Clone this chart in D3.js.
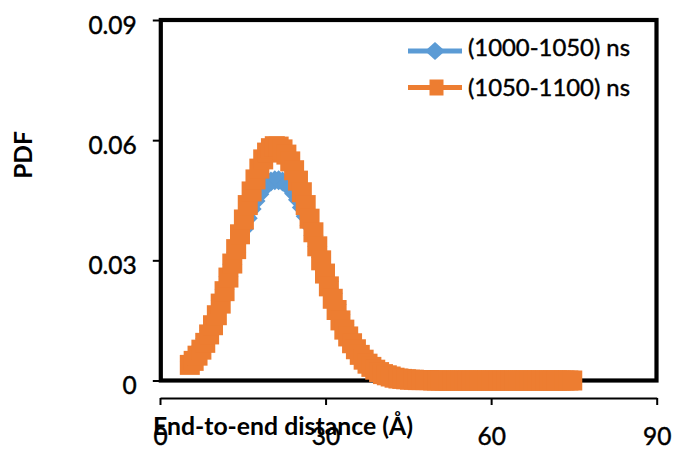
<!DOCTYPE html>
<html>
<head>
<meta charset="utf-8">
<script src="https://cdn.jsdelivr.net/npm/d3@7"></script>
<style>
  html, body { margin: 0; padding: 0; background: #fff; }
  text { font-family: Lato, "Open Sans", sans-serif; fill: #000; }
  .reg { stroke: #000; stroke-width: 0.45px; }
</style>
</head>
<body>
<script>
// ---- data ----
const distance = [
  5.4, 6.1, 6.8, 7.5, 8.2, 8.9, 9.6, 10.3, 11.0, 11.7,
  12.4, 13.1, 13.8, 14.5, 15.2, 15.9, 16.6, 17.3, 18.0, 18.7,
  19.4, 20.1, 20.8, 21.5, 22.2, 22.9, 23.6, 24.3, 25.0, 25.7,
  26.4, 27.1, 27.8, 28.5, 29.2, 29.9, 30.6, 31.3, 32.0, 32.7,
  33.4, 34.1, 34.8, 35.5, 36.2, 36.9, 37.6, 38.3, 39.0, 39.7,
  40.4, 41.1, 41.8, 42.5, 43.2, 43.9, 44.6, 45.3, 46.0, 46.7,
  47.4, 48.1, 48.8, 49.5, 50.2, 50.9, 51.6, 52.3, 53.0, 53.7,
  54.4, 55.1, 55.8, 56.5, 57.2, 57.9, 58.6, 59.3, 60.0, 60.7,
  61.4, 62.1, 62.8, 63.5, 64.2, 64.9, 65.6, 66.3, 67.0, 67.7,
  68.4, 69.1, 69.8, 70.5, 71.2, 71.9, 72.6, 73.3, 74.0, 74.7
];
const pdf1000_1050 = [
  0.0048, 0.0059, 0.0072, 0.0087, 0.0104, 0.0125, 0.0147, 0.0172, 0.0199, 0.0228,
  0.0259, 0.0290, 0.0320, 0.0350, 0.0378, 0.0405, 0.0428, 0.0448, 0.0465, 0.0479,
  0.0490, 0.0497, 0.0500, 0.0500, 0.0497, 0.0490, 0.0480, 0.0467, 0.0451, 0.0432,
  0.0410, 0.0387, 0.0362, 0.0335, 0.0307, 0.0278, 0.0248, 0.0218, 0.0190, 0.0164,
  0.0140, 0.0120, 0.0102, 0.0086, 0.0072, 0.0060, 0.0049, 0.0040, 0.0032, 0.0026,
  0.0021, 0.0017, 0.0013, 0.0010, 0.0008, 0.0006, 0.0005, 0.0004, 0.0003, 0.0002,
  0.0002, 0.0001, 0.0001, 0.0001, 0.0001, 0, 0, 0, 0, 0,
  0, 0, 0, 0, 0, 0, 0, 0, 0, 0,
  0, 0, 0, 0, 0, 0, 0, 0, 0, 0,
  0, 0, 0, 0, 0, 0, 0, 0, 0, 0
];
const pdf1050_1100 = [
  0.0039, 0.0049, 0.0062, 0.0077, 0.0094, 0.0115, 0.0138, 0.0163, 0.0192, 0.0223,
  0.0257, 0.0292, 0.0328, 0.0365, 0.0402, 0.0438, 0.0472, 0.0502, 0.0529, 0.0552,
  0.0569, 0.0580, 0.0585, 0.0584, 0.0577, 0.0564, 0.0547, 0.0525, 0.0499, 0.0470,
  0.0438, 0.0404, 0.0370, 0.0335, 0.0300, 0.0267, 0.0235, 0.0204, 0.0176, 0.0150,
  0.0127, 0.0110, 0.0093, 0.0078, 0.0064, 0.0052, 0.0042, 0.0034, 0.0027, 0.0021,
  0.0016, 0.0013, 0.0010, 0.0007, 0.0005, 0.0004, 0.0003, 0.0002, 0.0002, 0.0001,
  0.0001, 0.0001, 0.0001, 0, 0, 0, 0, 0, 0, 0,
  0, 0, 0, 0, 0, 0, 0, 0, 0, 0,
  0, 0, 0, 0, 0, 0, 0, 0, 0, 0,
  0, 0, 0, 0, 0, 0, 0, 0, 0, 0
];
const seriesNames = ["(1000-1050) ns", "(1050-1100) ns"];
const seriesColors = ["#5B9BD5", "#ED7D31"];
const xTicks = [0, 30, 60, 90];
const yTicks = [0, 0.03, 0.06, 0.09];
const xTitle = "End-to-end distance (Å)";
const yTitle = "PDF";

// ---- layout ----
const W = 673, H = 450;
const box = { left: 160.8, right: 656.5, top: 20, bottom: 380.5 };
const xAxisY = 398;

const svg = d3.select("body").append("svg").attr("width", W).attr("height", H);

const x = d3.scaleLinear().domain([0, 90]).range([160, 656.7]);
const y = d3.scaleLinear().domain([0, 0.09]).range([box.bottom, box.top]);

// plot box
svg.append("rect")
  .attr("x", box.left).attr("y", box.top)
  .attr("width", box.right - box.left).attr("height", box.bottom - box.top)
  .attr("fill", "none").attr("stroke", "#000").attr("stroke-width", 4.2);

// y axis
const yAxis = svg.append("g").attr("transform", `translate(${box.left},0)`)
  .call(d3.axisLeft(y).tickValues(yTicks)
    .tickFormat(d => d === 0 ? "0" : d3.format(".2f")(d))
    .tickSize(8).tickPadding(16));
yAxis.select(".domain").remove();
yAxis.selectAll(".tick line").attr("stroke", "#000").attr("stroke-width", 2);
yAxis.selectAll(".tick text").attr("class", "reg")
  .attr("dy", 13).attr("font-size", 24.5).attr("font-family", "Lato").attr("fill", "#000");

// x axis (detached, below the box)
const xAxis = svg.append("g").attr("transform", `translate(0,${xAxisY})`)
  .call(d3.axisBottom(x).tickValues(xTicks).tickSize(7).tickSizeOuter(0));
xAxis.select(".domain").attr("stroke", "#000").attr("stroke-width", 2);
xAxis.selectAll(".tick line").attr("stroke", "#000").attr("stroke-width", 2);
xAxis.selectAll(".tick text").attr("class", "reg")
  .attr("y", 47).attr("dy", 0).attr("font-size", 24.5).attr("font-family", "Lato").attr("fill", "#000");

// series
const allSeries = [pdf1000_1050, pdf1050_1100];
const line = d3.line().x((d, i) => x(distance[i])).y(d => y(d));
const diamond = "M0,-10L10,0L0,10L-10,0Z";
const square = "M-10,-10H10V10H-10Z";

allSeries.forEach((vals, si) => {
  const g = svg.append("g");
  g.append("path").datum(vals).attr("d", line)
    .attr("fill", "none").attr("stroke", seriesColors[si]).attr("stroke-width", 5);
  g.selectAll("path.m").data(vals).join("path").attr("class", "m")
    .attr("d", si === 0 ? diamond : square)
    .attr("transform", (d, i) => `translate(${x(distance[i])},${y(d)})`)
    .attr("fill", seriesColors[si]);
});

// legend
const legend = svg.append("g");
const legendRows = [
  { ly: 51, ty: 55.5, shape: "M0,-9L10,0L0,9L-10,0Z", cx: 435 },
  { ly: 87.5, ty: 96, shape: "M-7,-8H7V8H-7Z", cx: 436.5 }
];
legendRows.forEach((r, i) => {
  legend.append("line").attr("x1", 408).attr("x2", 462).attr("y1", r.ly).attr("y2", r.ly)
    .attr("stroke", seriesColors[i]).attr("stroke-width", 5);
  legend.append("path").attr("d", r.shape)
    .attr("transform", `translate(${r.cx},${r.ly})`).attr("fill", seriesColors[i]);
  legend.append("text").attr("class", "reg").attr("x", 468).attr("y", r.ty)
    .attr("font-size", 24).attr("textLength", 162).attr("lengthAdjust", "spacingAndGlyphs")
    .text(seriesNames[i]);
});

// axis titles
svg.append("text").attr("x", 153).attr("y", 435)
  .attr("font-size", 24.5).attr("font-weight", "bold")
  .attr("textLength", 260).attr("lengthAdjust", "spacingAndGlyphs")
  .text(xTitle);
svg.append("text")
  .attr("transform", "translate(32,155) rotate(-90)")
  .attr("text-anchor", "middle")
  .attr("font-size", 24.5).attr("font-weight", "bold")
  .text(yTitle);
</script>
</body>
</html>
